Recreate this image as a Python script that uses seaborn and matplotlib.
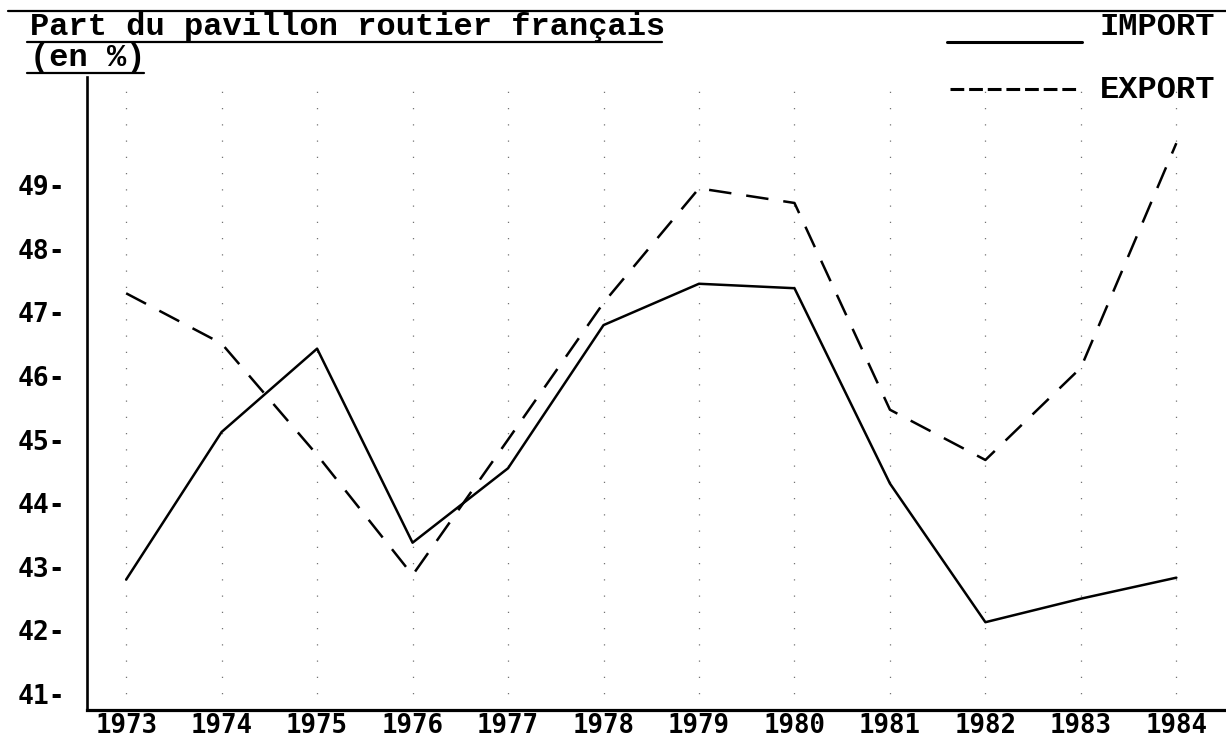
import pandas as pd
import matplotlib.pyplot as plt
import seaborn as sns
from matplotlib.lines import Line2D

# Données (part du pavillon routier français, en %)
annees = [1973, 1974, 1975, 1976, 1977, 1978, 1979, 1980, 1981, 1982, 1983, 1984]
import_pct = [42.8, 45.12, 46.43, 43.38, 44.55, 46.8, 47.45, 47.38, 44.31, 42.13, 42.5, 42.83]
export_pct = [47.3, 46.51, 44.76, 42.87, 45.0, 47.15, 48.95, 48.72, 45.47, 44.68, 46.13, 49.66]
y_ticks = [41, 42, 43, 44, 45, 46, 47, 48, 49]

df = pd.DataFrame({
    'annee': annees * 2,
    'part': import_pct + export_pct,
    'flux': ['IMPORT'] * len(annees) + ['EXPORT'] * len(annees),
})

sns.set_style('white')
plt.rcParams['font.family'] = ['DejaVu Sans Mono', 'DejaVu Sans']
plt.rcParams['text.color'] = 'black'
plt.rcParams['xtick.color'] = 'black'
plt.rcParams['ytick.color'] = 'black'

W, H = 1226, 740
fig = plt.figure(figsize=(W / 100, H / 100), dpi=100)
ax = fig.add_axes([87 / W, 30 / H, 1 - 87 / W, (710 - 77) / H])

sns.lineplot(data=df, x='annee', y='part', hue='flux', style='flux',
             palette={'IMPORT': 'black', 'EXPORT': 'black'},
             dashes={'IMPORT': '', 'EXPORT': (9, 6)},
             linewidth=1.8, legend=False, ax=ax)

ax.set_xlim(1972.59, 1984.52)
ax.set_ylim(40.75, 50.7)
ax.set_xticks(annees)
ax.set_xticklabels([str(a) for a in annees], fontsize=18.5, fontweight='bold')
ax.set_yticks(y_ticks)
ax.set_yticklabels([f'{v}-' for v in y_ticks], fontsize=19, fontweight='bold')
ax.tick_params(axis='x', length=0, pad=2)
ax.tick_params(axis='y', length=0, pad=16)
ax.set_xlabel('')
ax.set_ylabel('')

# pointillés verticaux (trame du document)
ax.grid(axis='x', linestyle=(0, (1, 12)), linewidth=0.9, color='0.45')
ax.grid(axis='y', visible=False)

for s in ['top', 'right']:
    ax.spines[s].set_visible(False)
ax.spines['left'].set_linewidth(1.9)
ax.spines['bottom'].set_linewidth(2.3)
ax.spines['left'].set_color('black')
ax.spines['bottom'].set_color('black')

# titre tapé à la machine, souligné
fig.text(30 / W, 1 - 35 / H, 'Part du pavillon routier français',
         family='Liberation Mono', fontsize=23, fontweight='bold', va='baseline', ha='left')
fig.text(30 / W, 1 - 66 / H, '(en %)',
         family='Liberation Mono', fontsize=23, fontweight='bold', va='baseline', ha='left')
fig.add_artist(Line2D([8 / W, 1], [1 - 11 / H, 1 - 11 / H], color='black', lw=1.6))
fig.add_artist(Line2D([27 / W, 662 / W], [1 - 42 / H, 1 - 42 / H], color='black', lw=1.6))
fig.add_artist(Line2D([27 / W, 144 / W], [1 - 73 / H, 1 - 73 / H], color='black', lw=1.6))

# légende
fig.text(1215 / W, 1 - 35 / H, 'IMPORT', family='Liberation Mono', fontsize=23,
         fontweight='bold', va='baseline', ha='right')
fig.text(1215 / W, 1 - 98 / H, 'EXPORT', family='Liberation Mono', fontsize=23,
         fontweight='bold', va='baseline', ha='right')
fig.add_artist(Line2D([947 / W, 1082 / W], [1 - 42 / H, 1 - 42 / H], color='black', lw=2.2))
fig.add_artist(Line2D([950 / W, 1078 / W], [1 - 89 / H, 1 - 89 / H], color='black', lw=2.2,
                      dashes=(4.5, 1.6)))

fig.savefig('out.png', dpi=100)
